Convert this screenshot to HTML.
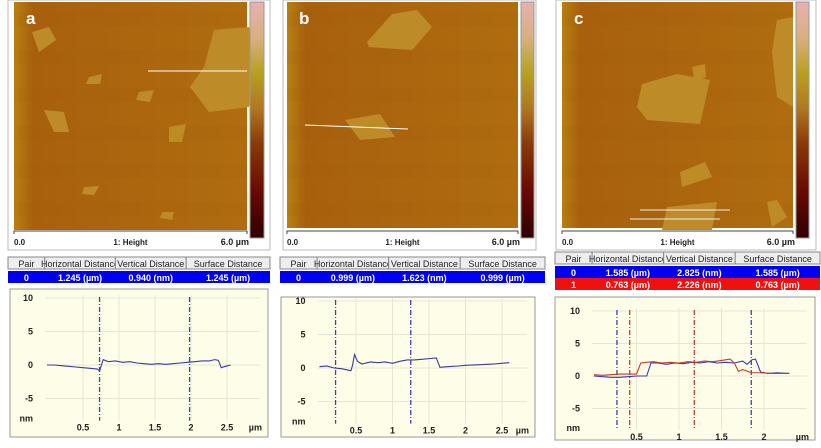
<!DOCTYPE html>
<html><head><meta charset="utf-8">
<style>
html,body{margin:0;padding:0;background:#fff;}
svg{display:block;font-family:"Liberation Sans",Arial,sans-serif;}
</style></head>
<body>
<svg id="fig" width="821" height="448" viewBox="0 0 821 448" xmlns="http://www.w3.org/2000/svg">
<defs>
<linearGradient id="cbar" x1="0" y1="0" x2="0" y2="1">
<stop offset="0" stop-color="#e8b0b0"/><stop offset="0.15" stop-color="#d8b080"/>
<stop offset="0.3" stop-color="#b8a020"/><stop offset="0.45" stop-color="#b07820"/>
<stop offset="0.6" stop-color="#8a3a08"/><stop offset="0.8" stop-color="#6a0a00"/>
<stop offset="1" stop-color="#300000"/></linearGradient>
<linearGradient id="sub" x1="0" y1="0" x2="1" y2="0">
<stop offset="0" stop-color="#b88012"/><stop offset="0.08" stop-color="#a8600d"/>
<stop offset="1" stop-color="#b06d0f"/></linearGradient>
</defs>
</svg>
<script>
// ---- chart data ----
const panelLabels = ['a','b','c'];
const yTicks = [10,5,0,-5];
const xTicksA = [0.5,1,1.5,2,2.5];
const xTicksB = [0.5,1,1.5,2,2.5];
const xTicksC = [0.5,1,1.5,2];
const profA_x = [0,0.1,0.2,0.3,0.4,0.5,0.6,0.7,0.73,0.78,0.85,0.95,1.05,1.15,1.25,1.35,1.45,1.55,1.65,1.75,1.85,1.95,2.05,2.15,2.25,2.33,2.38,2.42,2.48,2.55];
const profA_y = [0,0,-0.1,-0.2,-0.3,-0.4,-0.5,-0.6,-0.9,0.8,0.5,0.6,0.4,0.5,0.3,0.2,0.1,0.2,0.1,0.2,0.3,0.4,0.5,0.6,0.6,0.8,0.7,-0.4,-0.2,0];
const profB_x = [0,0.1,0.2,0.3,0.43,0.45,0.48,0.52,0.58,0.7,0.8,0.9,1.0,1.1,1.2,1.3,1.4,1.5,1.6,1.65,1.75,1.9,2.0,2.2,2.4,2.6];
const profB_y = [0.2,0.3,0,-0.1,-0.4,0.3,2.0,1.0,0.6,0.9,0.8,0.9,0.7,1.0,1.2,1.2,1.3,1.4,1.5,0.1,0.2,0.3,0.4,0.5,0.6,0.8];
const profC0_x = [0,0.1,0.2,0.3,0.4,0.5,0.55,0.62,0.67,0.75,0.85,0.95,1.05,1.15,1.25,1.35,1.45,1.55,1.65,1.75,1.8,1.86,1.9,1.96,2.05,2.15,2.3];
const profC0_y = [0,-0.1,-0.2,-0.2,-0.1,0,0,0,2,2,1.8,2.0,1.9,2.1,2.0,2.2,2.0,2.1,2.0,2.3,1.8,2.5,2.6,0.6,0.4,0.5,0.4];
const profC1_x = [0,0.1,0.2,0.3,0.4,0.5,0.55,0.62,0.7,0.8,0.9,1.0,1.1,1.2,1.3,1.4,1.5,1.6,1.65,1.7,1.75,1.85,1.95,2.1,2.3];
const profC1_y = [0.2,0.1,0.2,0.3,0.3,0.3,2.0,2.1,2.2,2.0,2.1,2.0,2.2,2.1,2.3,2.2,2.4,2.6,2.0,0.7,1.0,0.5,0.5,0.4,0.4];
const cursorsA = [0.73,1.98];
const cursorsB = [0.22,1.25];
const cursorsC0 = [0.27,1.85];
const cursorsC1 = [0.42,1.18];
const tableRows = [
 [['0','1.245 (µm)','0.940 (nm)','1.245 (µm)']],
 [['0','0.999 (µm)','1.623 (nm)','0.999 (µm)']],
 [['0','1.585 (µm)','2.825 (nm)','1.585 (µm)'],['1','0.763 (µm)','2.226 (nm)','0.763 (µm)']]
];
const NS='http://www.w3.org/2000/svg';
const svg=document.getElementById('fig');
function mk(tag,attrs,parent,text){const e=document.createElementNS(NS,tag);for(const k in attrs)e.setAttribute(k,attrs[k]);if(text!==undefined)e.textContent=text;(parent||svg).appendChild(e);return e;}

const layout=[
 {fx:8,fw:262,img:[14,2,233,228],cb:[250,2,14,236],th:257,rw:[8,270],box:[10,289,258,148],x0:47,xs:72,y0:365,ys:6.7,xt:xTicksA,px:[profA_x],py:[profA_y],pc:['#3a3aa0'],cur:[[cursorsA,'#4040b0']]},
 {fx:283,fw:253,img:[287,2,231,226],cb:[521,2,13,236],th:257,rw:[280,545],box:[281,297,254,140],x0:319.5,xs:73,y0:368,ys:6.7,xt:xTicksB,px:[profB_x],py:[profB_y],pc:['#3a3aa0'],cur:[[cursorsB,'#4040b0']]},
 {fx:556,fw:260,img:[562,2,231,226],cb:[796,2,13,236],th:252,rw:[555,820],box:[555,297,260,143],x0:594,xs:85,y0:376,ys:6.5,xt:xTicksC,px:[profC0_x,profC1_x],py:[profC0_y,profC1_y],pc:['#3a3ab0','#c04020'],cur:[[cursorsC0,'#4040b0'],[cursorsC1,'#c04030']]}
];
const flakes=[
 [[[200,28],[235,25],[244,60],[235,105],[195,110],[176,85],[190,65]],[[18,30],[35,25],[42,38],[25,50]],[[75,75],[88,72],[86,82],[72,82]],[[30,108],[50,110],[55,130],[40,130]],[[155,125],[172,122],[168,140],[155,140]],[[125,90],[140,88],[136,100],[122,98]],[[70,185],[85,184],[80,193],[68,192]],[[148,210],[160,210],[158,218],[146,216]]],
 [[[80,40],[105,12],[130,8],[145,25],[125,48],[82,45]],[[58,118],[93,112],[108,135],[73,138]],[[290,160],[300,158],[298,172],[290,172]]],
 [[[80,82],[115,72],[148,78],[138,122],[85,118],[75,105]],[[130,65],[143,62],[144,75],[133,80]],[[215,18],[231,15],[231,105],[215,95],[210,50]],[[118,170],[143,160],[150,175],[120,185]],[[105,205],[155,200],[150,228],[100,228]],[[205,200],[215,198],[225,215],[210,225]]]
];

layout.forEach((L,i)=>{
 const g=mk('g',{},svg);
 
 
 const fr=mk('rect',{x:L.fx,y:0,width:L.fw,height:250,fill:'#fff',stroke:'#bbb'},g);
 
 const [ix,iy,iw,ih]=L.img;
 const im=mk('rect',{x:ix,y:iy,width:iw,height:ih,fill:'url(#sub)'},g);
 
 for(let s=0;s<6;s++){mk('rect',{x:ix,y:iy+s*38+10,width:iw,height:14,fill:'#9a5008',opacity:0.07},g);}
 flakes[i].forEach(f=>{const p=mk('polygon',{points:f.map(q=>(ix+q[0])+','+(iy+q[1])).join(' '),fill:'#bd8c28'},g);});
 const lb=mk('text',{x:ix+12,y:iy+22,fill:'#fff','font-size':17,'font-weight':'bold'},g,panelLabels[i]);
 
 const [cx,cy,cw,ch]=L.cb;
 const cb=mk('rect',{x:cx,y:cy,width:cw,height:ch,fill:'url(#cbar)',stroke:'#999'},g);
 
 mk('path',{d:`M${ix} 234v-3h${iw}v3`,stroke:'#444',fill:'none'},g);
 const t1=mk('text',{x:ix,y:245,'font-size':8,'font-weight':'bold',fill:'#222'},g,'0.0');
 
 const t2=mk('text',{x:ix+iw/2,y:245,'font-size':8,'font-weight':'bold','text-anchor':'middle',fill:'#222'},g,'1: Height');
 
 const t3=mk('text',{x:ix+iw+2,y:245,'font-size':9,'font-weight':'bold','text-anchor':'end',fill:'#222'},g,'6.0 µm');
 
 const [tx0,tx1]=L.rw;const tw=tx1-tx0;
 const cols=[0,0.14,0.41,0.68,1];
 const hdr=['Pair','Horizontal Distance','Vertical Distance','Surface Distance'];
 for(let c=0;c<4;c++){
  const x=tx0+cols[c]*tw,w=(cols[c+1]-cols[c])*tw;
  const r=mk('rect',{x:x,y:L.th,width:w,height:12,fill:'#eee',stroke:'#888'},g);
  
  const t=mk('text',{x:x+w/2,y:L.th+10,'font-size':9,'text-anchor':'middle',fill:'#222'},g,hdr[c]);
  
 }
 tableRows[i].forEach((row,ri)=>{
  const ry=L.th+14+ri*12;
  const r=mk('rect',{x:tx0,y:ry,width:tw,height:12,fill:ri===0?'#0000f0':'#f01010'},g);
  
  row.forEach((v,c)=>{const x=tx0+(cols[c]+cols[c+1])/2*tw;
   const t=mk('text',{x:x,y:ry+10,'font-size':9,'font-weight':'bold','text-anchor':'middle',fill:'#fff'},g,v);
   });
 });
 const [bx,by,bw,bh]=L.box;
 const bxr=mk('rect',{x:bx,y:by,width:bw,height:bh,fill:'#fefde8',stroke:'#999'},g);
 
 const X=v=>L.x0+v*L.xs, Y=v=>L.y0-v*L.ys;
 const pl=L.x0-2, pr=bx+bw-8, pt=Y(10)-3, pb=Y(-8.3);
 L.xt.forEach(v=>{mk('line',{x1:X(v),x2:X(v),y1:pt,y2:pb,stroke:'#e6e6d6'},g);
  const t=mk('text',{x:X(v),y:pb+10,'font-size':9,'font-weight':'bold','text-anchor':'middle',fill:'#222'},g,String(v));
  });
 yTicks.forEach(v=>{mk('line',{x1:pl,x2:pr,y1:Y(v),y2:Y(v),stroke:'#e6e6d6'},g);
  const t=mk('text',{x:L.x0-14,y:Y(v)+3,'font-size':9,'font-weight':'bold','text-anchor':'end',fill:'#222'},g,String(v));
  });
 const nm=mk('text',{x:L.x0-14,y:Y(-8)+3,'font-size':9,'font-weight':'bold','text-anchor':'end',fill:'#222'},g,'nm');
 
 const um=mk('text',{x:pr+2,y:pb+10,'font-size':9,'font-weight':'bold','text-anchor':'end',fill:'#222'},g,'µm');
 
 L.cur.forEach(([arr,col])=>arr.forEach(v=>{const l=mk('line',{x1:X(v),x2:X(v),y1:pt+2,y2:pb,stroke:col,'stroke-width':1.3,'stroke-dasharray':'5,2,1,2'},g);
  }));
 L.px.forEach((xs,k)=>{const ys=L.py[k];
  const p=mk('polyline',{points:xs.map((v,j)=>X(v)+','+Y(ys[j])).join(' '),fill:'none',stroke:L.pc[k],'stroke-width':1.1},g);
  });
});
const sl=[[148,71,247,71,'#fff'],[305,125,408,129,'#fff'],[640,210,730,210,'#eee'],[630,219,720,219,'#eee']];
sl.forEach(s=>{const l=mk('line',{x1:s[0],y1:s[1],x2:s[2],y2:s[3],stroke:s[4],'stroke-width':1});
 });
</script>
</body></html>
